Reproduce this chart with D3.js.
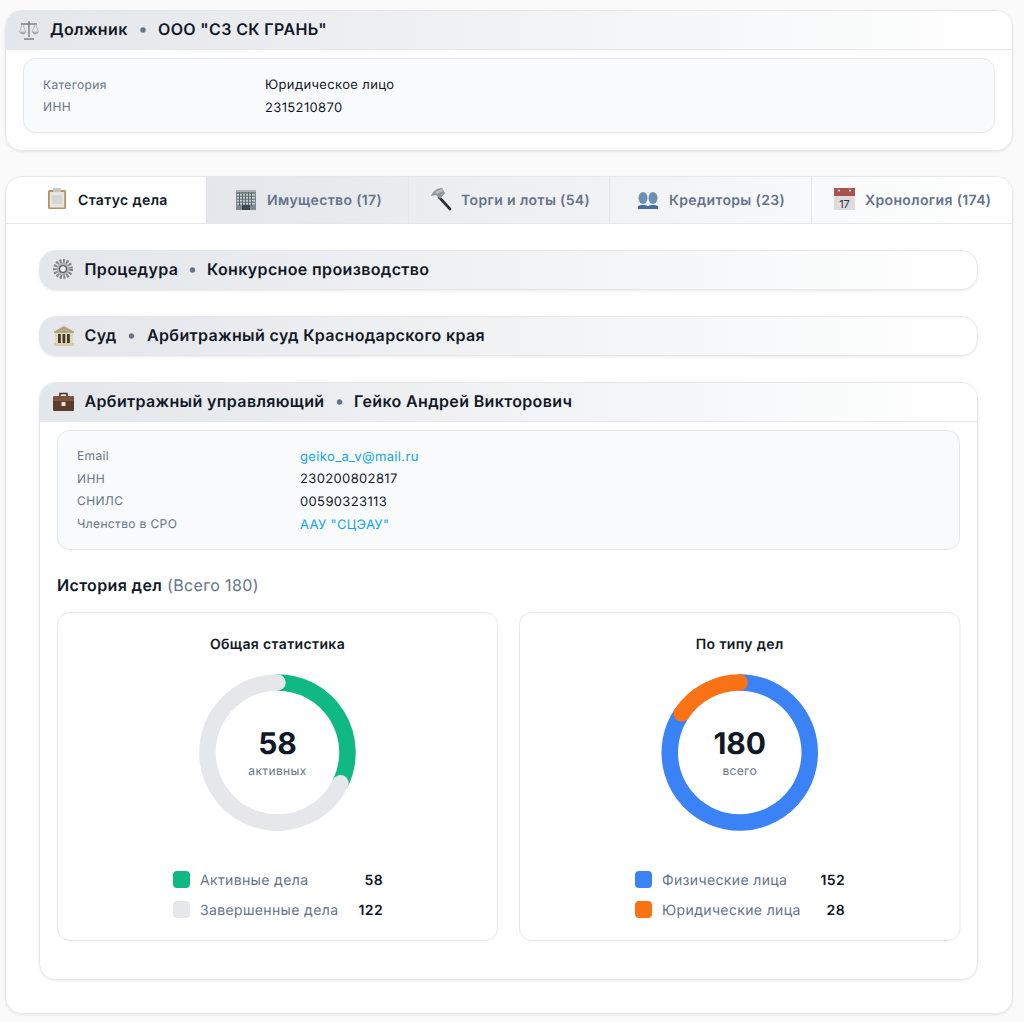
<!DOCTYPE html>
<html lang="ru">
<head>
<meta charset="utf-8">
<title>Должник</title>
<script src="https://cdn.jsdelivr.net/npm/d3@7"></script>
<style>
  html, body { margin: 0; padding: 0; background: #fafafa; }
  svg { display: block; font-family: Inter, "Noto Sans", sans-serif; }
  text { text-rendering: geometricPrecision; letter-spacing: 0.36px; }
  text.big { letter-spacing: 0; }
</style>
</head>
<body>
<svg id="page" width="1024" height="1022"></svg>
<script>
// Data
const debtorRows = [["Категория", "Юридическое лицо"], ["ИНН", "2315210870"]];
const managerRows = [
  ["Email", "geiko_a_v@mail.ru"],
  ["ИНН", "230200802817"],
  ["СНИЛС", "00590323113"],
  ["Членство в СРО", "ААУ \"СЦЭАУ\""]
];
const linkLabels = ["Email", "Членство в СРО"];
const tabLabels = ["Статус дела", "Имущество (17)", "Торги и лоты (54)", "Кредиторы (23)", "Хронология (174)"];
const statsLabels = ["Активные дела", "Завершенные дела"];
const statsValues = [58, 122];
const statsColors = ["#10b981", "#e5e7eb"];
const typeLabels = ["Физические лица", "Юридические лица"];
const typeValues = [152, 28];
const typeColors = ["#3b82f6", "#f97316"];

const ink = "#111827", muted = "#64748b", line = "#e5e7eb", link = "#0ea5e9";

const svg = d3.select("#page");
const defs = svg.append("defs");

const grad = defs.append("linearGradient").attr("id", "headGrad");
grad.append("stop").attr("offset", 0).attr("stop-color", "#e3e6ea");
grad.append("stop").attr("offset", 1).attr("stop-color", "#ffffff");

const shadow = defs.append("filter").attr("id", "soft")
  .attr("x", "-5%").attr("y", "-20%").attr("width", "110%").attr("height", "140%");
shadow.append("feDropShadow").attr("dx", 0).attr("dy", 1).attr("stdDeviation", 1)
  .attr("flood-color", "#000").attr("flood-opacity", 0.09);

// Helpers
function box(x, y, w, h, r, fill, useShadow) {
  const b = svg.append("rect").attr("x", x).attr("y", y).attr("width", w).attr("height", h)
    .attr("rx", r).attr("fill", fill).attr("stroke", line);
  if (useShadow) b.attr("filter", "url(#soft)");
  return b;
}

function label(parent, x, y, str, size, weight, color, anchor) {
  return parent.append("text").attr("x", x).attr("y", y).text(str)
    .attr("font-size", size).attr("font-weight", weight).attr("fill", color)
    .attr("text-anchor", anchor || "start");
}

// Header strip whose top corners follow the card and whose bottom is square
function topRounded(x, y, w, h, r) {
  const p = d3.path();
  p.moveTo(x, y + h);
  p.lineTo(x, y + r);
  p.arcTo(x, y, x + r, y, r);
  p.lineTo(x + w - r, y);
  p.arcTo(x + w, y, x + w, y + r, r);
  p.lineTo(x + w, y + h);
  p.closePath();
  return p.toString();
}

function headerText(x, baseline, dotX, valueX, title, value) {
  label(svg, x, baseline, title, 16, 600, ink);
  svg.append("circle").attr("cx", dotX).attr("cy", baseline - 5).attr("r", 2.7).attr("fill", muted);
  label(svg, valueX, baseline, value, 16, 600, ink);
}

function rows(data, labelX, valueX, firstBaseline, step, labelSize, valueSize) {
  data.forEach((d, i) => {
    const y = firstBaseline + i * step;
    label(svg, labelX, y, d[0], labelSize, 400, muted);
    label(svg, valueX, y + 0.5, d[1], valueSize, 400, linkLabels.includes(d[0]) && data === managerRows ? link : ink);
  });
}

// Icons, each drawn in a box of about 20x20
function icon(x, y) {
  return svg.append("g").attr("transform", `translate(${x},${y})`);
}
function part(g, tag, attrs) {
  const el = g.append(tag);
  Object.entries(attrs).forEach(([k, v]) => el.attr(k, v));
  return el;
}

function scalesIcon(g) {
  const c = "#7b8087";
  part(g, "path", { d: "M10 1V17M2 4H18M5 19H15", stroke: c, "stroke-width": 1.4, fill: "none" });
  part(g, "path", { d: "M3.5 4L0.5 12H7ZM16.5 4L13 12H19.5Z", stroke: "#a3a8ae", "stroke-width": 0.7, fill: "none" });
  part(g, "path", { d: "M0.5 12A3.3 3 0 0 0 7 12ZM13 12A3.3 3 0 0 0 19.5 12Z", fill: "#a9adb3" });
}
function clipboardIcon(g) {
  part(g, "rect", { x: 0, y: 2, width: 18, height: 19, rx: 1.5, fill: "#b8925f" });
  part(g, "rect", { x: 1.8, y: 4, width: 14.4, height: 15.5, fill: "#e6e6e4" });
  part(g, "rect", { x: 5, y: 0, width: 8, height: 4, rx: 1, fill: "#c4c6c8" });
  part(g, "rect", { x: 4, y: 7, width: 10, height: 9, fill: "#d5d6d5" });
}
function buildingIcon(g) {
  part(g, "rect", { x: 0, y: 2, width: 20, height: 19, fill: "#7d8a90" });
  part(g, "rect", { x: 0, y: 1, width: 20, height: 2, fill: "#a9b0b3" });
  [5, 8, 11, 14].forEach(y => part(g, "rect", { x: 1, y: y, width: 18, height: 1.5, fill: "#c5ccd0" }));
  [3, 6, 9, 12, 15].forEach(x => part(g, "rect", { x: x, y: 3, width: 1, height: 14, fill: "#5d696f" }));
  part(g, "rect", { x: 6, y: 16, width: 8, height: 5, fill: "#3b4a52" });
}
function hammerIcon(g) {
  part(g, "path", { d: "M9 9L20 21", stroke: "#2b2b2b", "stroke-width": 2.6, "stroke-linecap": "round" });
  part(g, "path", { d: "M1 8C3 3 7 0 12 0L15 5L10 11L6 7Z", fill: "#8f969c" });
  part(g, "path", { d: "M5 4L12 1L13 3L7 6Z", fill: "#b9bfc4" });
}
function peopleIcon(g) {
  part(g, "ellipse", { cx: 5, cy: 6, rx: 4.5, ry: 6, fill: "#6d8fb1" });
  part(g, "ellipse", { cx: 15, cy: 6, rx: 4.5, ry: 6, fill: "#6d8fb1" });
  part(g, "path", { d: "M0 17V14C2 12.5 8 12.5 10 14C12 12.5 18 12.5 20 14V17Z", fill: "#3f6f9e" });
}
function calendarIcon(g) {
  part(g, "rect", { x: 0, y: 5, width: 21, height: 17, fill: "#dcdcdc" });
  part(g, "rect", { x: 0, y: 0, width: 21, height: 8, fill: "#a8534f" });
  part(g, "circle", { cx: 5, cy: 2.5, r: 1, fill: "#e8e8e8" });
  part(g, "circle", { cx: 16, cy: 2.5, r: 1, fill: "#e8e8e8" });
  label(g, 10.5, 19.5, "17", 11, 400, "#333", "middle").attr("class", "big");
}
function gearIcon(g) {
  part(g, "circle", { cx: 10, cy: 10, r: 8, fill: "none", stroke: "#7e8489", "stroke-width": 4, "stroke-dasharray": "2 1.4" });
  part(g, "circle", { cx: 10, cy: 10, r: 6.5, fill: "#aab0b5" });
  part(g, "circle", { cx: 10, cy: 10, r: 3.4, fill: "#eef0f1", stroke: "#5b6167", "stroke-width": 1.4 });
}
function bankIcon(g) {
  part(g, "path", { d: "M10 0L20 5.5V7H0V5.5Z", fill: "#b3a67f" });
  part(g, "rect", { x: 1, y: 7, width: 18, height: 10, fill: "#e2d8b6" });
  [4, 8.5, 13].forEach(x => part(g, "rect", { x: x, y: 8, width: 2.8, height: 9, fill: "#3f3a2c" }));
  part(g, "rect", { x: 0, y: 17, width: 20, height: 3, fill: "#d7cca5" });
}
function briefcaseIcon(g) {
  part(g, "path", { d: "M7 4V1.5H14V4", stroke: "#4a3226", "stroke-width": 1.6, fill: "none" });
  part(g, "rect", { x: 0, y: 4, width: 21, height: 15, rx: 1.5, fill: "#5a3b2c" });
  part(g, "rect", { x: 0, y: 4, width: 21, height: 5, rx: 1.5, fill: "#7a5440" });
  part(g, "rect", { x: 8.5, y: 10, width: 4, height: 4, fill: "#e8e4dc" });
}

// Debtor card
box(5.5, 10.5, 1007, 140, 16, "#fff", true);
svg.append("path").attr("d", topRounded(6, 11, 1006, 38.5, 15.5)).attr("fill", "url(#headGrad)");
svg.append("path").attr("d", "M6 49.5H1012").attr("stroke", line);
scalesIcon(icon(19, 20));
headerText(50, 35, 143, 158, "Должник", "ООО \"СЗ СК ГРАНЬ\"");
box(23.5, 58.5, 971, 74, 12, "#f9fafb");
rows(debtorRows, 43, 265, 88.5, 22.5, 12, 13);

// Main card and tabs
box(5.5, 176.5, 1007, 837, 16, "#fff", true);
const tabEdges = [6, 206, 408, 609, 811, 1012];
const tabTextX = [78, 267, 461, 669, 865];
const tabIconX = [48, 236, 430, 638, 834];
const tabIconY = [188, 189, 188, 192, 188];
const tabIcons = [clipboardIcon, buildingIcon, hammerIcon, peopleIcon, calendarIcon];
svg.append("path").attr("d", () => {
  const p = d3.path();
  const x = tabEdges[1], r = 15.5;
  p.moveTo(x, 223); p.lineTo(x, 177); p.lineTo(1012 - r, 177);
  p.arcTo(1012, 177, 1012, 177 + r, r); p.lineTo(1012, 223); p.closePath();
  return p.toString();
}).attr("fill", "url(#headGrad)");
svg.append("path").attr("d", "M6 223.5H1012").attr("stroke", line);
tabEdges.slice(2, 5).forEach(x => svg.append("path").attr("d", `M${x + 0.5} 177V223`).attr("stroke", line));
tabLabels.forEach((t, i) => {
  tabIcons[i](icon(tabIconX[i], tabIconY[i]));
  label(svg, tabTextX[i], 205, t, 14, 600, i === 0 ? ink : muted);
});

// Collapsed sections
box(39.5, 250.5, 938, 39, 16, "#fff", true).attr("fill", "url(#headGrad)");
gearIcon(icon(53, 259));
headerText(84.5, 275, 192.5, 207, "Процедура", "Конкурсное производство");
box(39.5, 316.5, 938, 39, 16, "#fff", true).attr("fill", "url(#headGrad)");
bankIcon(icon(54, 326));
headerText(84.5, 341, 131.5, 147, "Суд", "Арбитражный суд Краснодарского края");

// Manager section
box(39.5, 382.5, 938, 597, 16, "#fff", true);
svg.append("path").attr("d", topRounded(40, 383, 937, 38, 15.5)).attr("fill", "url(#headGrad)");
svg.append("path").attr("d", "M40 421.5H977").attr("stroke", line);
briefcaseIcon(icon(53, 392));
headerText(84.5, 407, 339.5, 354, "Арбитражный управляющий", "Гейко Андрей Викторович");
box(57.5, 430.5, 902, 119, 12, "#f9fafb");
rows(managerRows, 77, 300, 460, 22.7, 12, 13);

const hist = label(svg, 57, 591, "История дел", 16, 600, ink);
hist.append("tspan").text(" (Всего 180)").attr("font-weight", 400).attr("fill", muted);

// Donut cards
const pie = d3.pie().sort(null).value(d => d);
const donutRadius = 70;

// Open arc, so the round line caps show at both ends of a slice
function openArc(d) {
  const p = d3.path();
  p.arc(0, 0, donutRadius, d.startAngle - Math.PI / 2, d.endAngle - Math.PI / 2);
  return p.toString();
}

function donutCard(x, w, title, centerText, centerLabel, labels, values, colors, swatchX, valueX) {
  box(x, 612.5, w, 328, 12, "#fff");
  const cx = x + w / 2;
  label(svg, cx, 648.5, title, 14, 600, ink, "middle");

  const g = svg.append("g").attr("transform", `translate(${cx},752.5)`);
  g.selectAll("path").data(pie(values)).enter().append("path")
    .attr("d", openArc)
    .attr("fill", "none")
    .attr("stroke", (d, i) => colors[i])
    .attr("stroke-width", 16.5)
    .attr("stroke-linecap", "round");

  label(svg, cx, 754, centerText, 30, 700, ink, "middle").attr("class", "big");
  label(svg, cx, 775, centerLabel, 12, 400, muted, "middle");

  labels.forEach((t, i) => {
    const y = 871 + i * 30;
    svg.append("rect").attr("x", swatchX).attr("y", y).attr("width", 17).attr("height", 17)
      .attr("rx", 4).attr("fill", colors[i]);
    label(svg, swatchX + 27, y + 14, t, 14, 400, muted);
    label(svg, valueX, y + 14, values[i], 14, 600, ink, "end");
  });
}

donutCard(57.5, 440, "Общая статистика", "58", "активных", statsLabels, statsValues, statsColors, 173, 383);
donutCard(519.5, 440.5, "По типу дел", "180", "всего", typeLabels, typeValues, typeColors, 635, 845);
</script>
</body>
</html>
